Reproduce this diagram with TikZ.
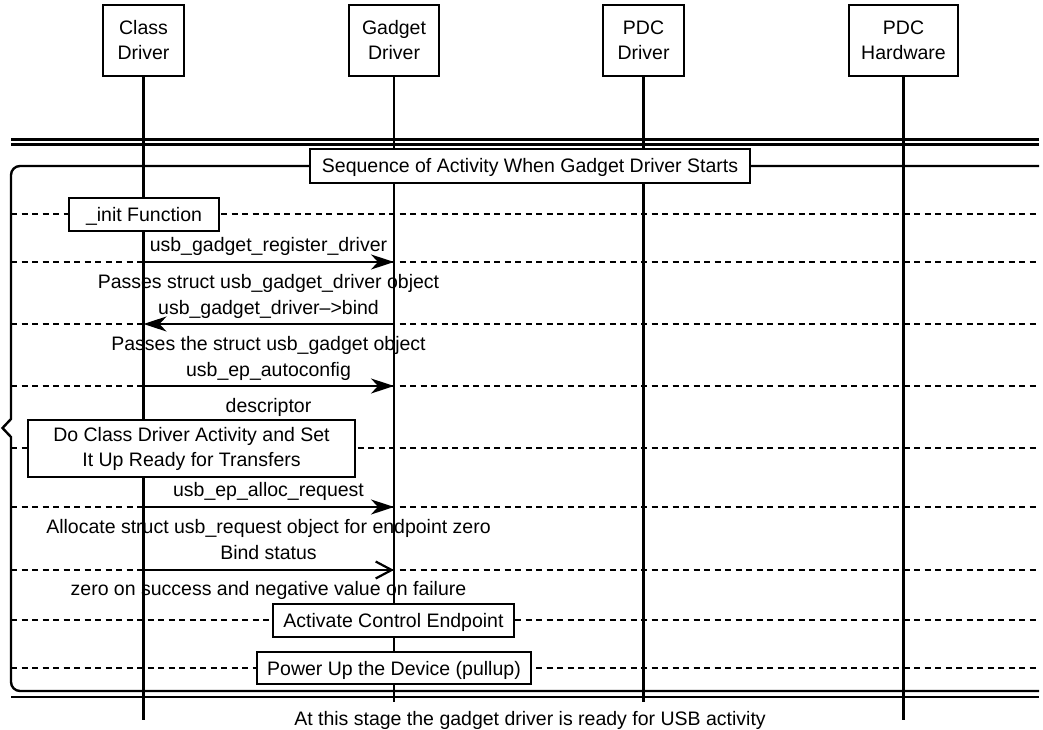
\documentclass[tikz,border=0pt]{standalone}
\usepackage{fontspec}
\setmainfont{Liberation Sans}
\usetikzlibrary{arrows.meta}
\begin{document}
\begin{tikzpicture}[x=1pt,y=-1pt,
  every node/.style={font=\fontsize{19.5}{25}\selectfont},
  head/.style={draw,line width=2.5pt,fill=white,minimum height=71pt,align=center,inner xsep=12pt,minimum width=81pt},
  actbox/.style={draw,line width=2.5pt,fill=white,text height=16pt,text depth=2pt,inner sep=0pt,minimum height=33pt},
  bigbox/.style={draw,line width=2.5pt,fill=white,align=center},
  life/.style={line width=2.2pt},
  sepline/.style={line width=2.4pt,dash pattern=on 6pt off 4.5pt},
  msg/.style={line width=2.2pt,-{Stealth[length=23pt,width=15pt,inset=7pt]}},
  retmsg/.style={line width=2.2pt,-{Straight Barb[length=16pt,width=17pt]}},
  lbl/.style={anchor=base,inner sep=0pt},
  rule/.style={line width=2.4pt}
]
\useasboundingbox (0,0) rectangle (1043,730);

% header boxes
\node[head] (cd) at (143.5,40.5) {Class\\Driver};
\node[head,minimum width=90pt] (gd) at (394,40.5) {Gadget\\Driver};
\node[head] (pd) at (643.5,40.5) {PDC\\Driver};
\node[head,minimum width=109pt] (ph) at (903.5,40.5) {PDC\\Hardware};

% lifeline ends
\coordinate (cdE) at (143.5,720);
\coordinate (gdE) at (394,702);
\coordinate (pdE) at (643.5,702);
\coordinate (phE) at (903.5,720);

% double rules
\draw[line width=2.6pt] (11,139.5) -- (1039,139.5);
\draw[line width=2.1pt] (11,144.5) -- (1039,144.5);
\draw[rule] (11,697) -- (1039,697);

% frame with notch
\draw[rule] (1039,166) [rounded corners=9pt] -- (11,166) -- (11,300) [sharp corners] -- (11,419) -- (2.5,428) -- (11,437) -- (11,550) [rounded corners=9pt] -- (11,691) -- (1039,691);
\draw[line width=2.9pt,dash pattern=on 6pt off 4.5pt] (22,166) -- (1039,166);

% separator lines
\foreach \yy in {214,262,324,386,448,507,570,620,668}
  \draw[sepline] (11,\yy) -- (1039,\yy);

% lifelines
\draw[life] (cd.south) -- (cdE);
\draw[life] (gd.south) -- (gdE);
\draw[life] (pd.south) -- (pdE);
\draw[life] (ph.south) -- (phE);

% message anchors
\coordinate (c1) at (143.5,262); \coordinate (g1) at (394,262);
\coordinate (c2) at (143.5,324); \coordinate (g2) at (394,324);
\coordinate (c3) at (143.5,386); \coordinate (g3) at (394,386);
\coordinate (c4) at (143.5,507); \coordinate (g4) at (394,507);
\coordinate (c5) at (143.5,570); \coordinate (g5) at (394,570);

\draw[msg] (c1) -- (g1);
\draw[msg] (g2) -- (c2);
\draw[msg] (c3) -- (g3);
\draw[msg] (c4) -- (g4);
\draw[retmsg] (c5) -- (g5);

% activity boxes
\node[actbox,minimum width=440pt,minimum height=34pt] (title) at (530,166) {Sequence of Activity When Gadget Driver Starts};
\node[actbox,minimum width=150pt] (init) at (144,214.5) {\_init Function};
\node[bigbox,minimum width=327pt,minimum height=57pt] (doclass) at (191.5,448.5) {Do Class Driver Activity and Set\\It Up Ready for Transfers};
\node[actbox,minimum width=241pt] (act) at (393.5,620.5) {Activate Control Endpoint};
\node[actbox,minimum width=274pt,minimum height=32pt] (pwr) at (394,668) {Power Up the Device (pullup)};

% labels
\node[lbl] (t1) at (268.5,251.5) {usb\_gadget\_register\_driver};
\node[lbl] (t2) at (268.5,288) {Passes struct usb\_gadget\_driver object};
\node[lbl] (t3) at (268.5,314.5) {usb\_gadget\_driver\textendash>bind};
\node[lbl] (t4) at (268.5,350.5) {Passes the struct usb\_gadget object};
\node[lbl] (t5) at (268.5,376.5) {usb\_ep\_autoconfig};
\node[lbl] (t6) at (268.5,412) {descriptor};
\node[lbl] (t7) at (268.5,496.5) {usb\_ep\_alloc\_request};
\node[lbl] (t8) at (268.5,533.5) {Allocate struct usb\_request object for endpoint zero};
\node[lbl] (t9) at (268.5,559) {Bind status};
\node[lbl] (t10) at (268.5,595.5) {zero on success and negative value on failure};
\node[lbl] (fin) at (530,725.5) {At this stage the gadget driver is ready for USB activity};
\end{tikzpicture}
\end{document}
